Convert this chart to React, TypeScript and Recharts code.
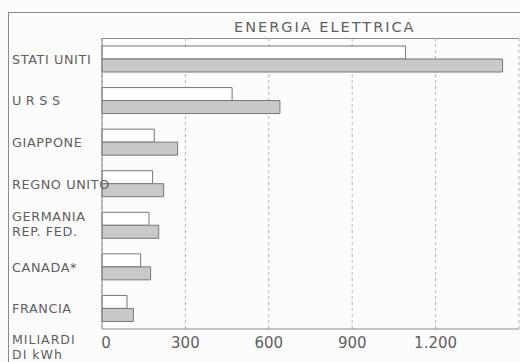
import { BarChart, Bar, XAxis, YAxis, CartesianGrid } from 'recharts'

const paesi = ['STATI UNITI', 'URSS', 'GIAPPONE', 'REGNO UNITO', 'GERMANIA\nREP. FED.', 'CANADA*', 'FRANCIA']
const primoAnno = [1092, 468, 188, 182, 169, 139, 90]
const secondoAnno = [1441, 640, 272, 222, 204, 175, 113]
const tickValori = [0, 300, 600, 900, 1200]

const data = paesi.map((p, i) => ({ paese: p, a: primoAnno[i], b: secondoAnno[i] }))

const FONT = '"DejaVu Sans", sans-serif'
const INK = '#5f5f5f'
const LINE = '#8a8a8a'

const formatTick = (v: number) => v.toLocaleString('it-IT').replace(/\s/g, '.')

const PaeseTick = (props: any) => {
  const { y, payload } = props
  const righe = String(payload.value).split('\n')
  const spacing = payload.value === 'URSS' ? 4.5 : 0.6
  return (
    <text x={12} y={y} fill={INK} fontSize={12.8} fontFamily={FONT} letterSpacing={spacing} textAnchor="start">
      {righe.map((r, i) => (
        <tspan key={i} x={12} dy={i === 0 ? (righe.length > 1 ? -4 : 5) : 15}>{r}</tspan>
      ))}
    </text>
  )
}

const ValoreTick = (props: any) => {
  const { x, payload } = props
  const shift = payload.value === 0 ? 4 : 0
  return (
    <text x={x + shift} y={348} fill={INK} fontSize={15} fontFamily={FONT} textAnchor="middle">
      {formatTick(payload.value)}
    </text>
  )
}

export default function App() {
  return (
    <div style={{ position: 'absolute', left: 0, top: 0, width: 520, height: 362, background: '#fcfcfc', overflow: 'hidden' }}>
      {/* cornice esterna */}
      <div style={{ position: 'absolute', left: 8, top: 12, width: 511, height: 360, borderTop: `1px solid ${LINE}`, borderLeft: `1px solid ${LINE}`, borderRight: `1px solid ${LINE}` }} />
      <div style={{ position: 'absolute', left: 102, top: 38, width: 417, height: 0, borderTop: `1px solid ${LINE}` }} />
      <div style={{ position: 'absolute', left: 234, top: 19, color: INK, fontFamily: FONT, fontSize: 14.5, letterSpacing: 2, whiteSpace: 'nowrap' }}>
        ENERGIA ELETTRICA
      </div>
      <div style={{ position: 'absolute', left: 12, top: 332, color: INK, fontFamily: FONT, fontSize: 12.5, letterSpacing: 1, lineHeight: '15px' }}>
        MILIARDI<br />DI kWh
      </div>
      <div style={{ position: 'absolute', left: 0, top: 0 }}>
        <BarChart
          width={520}
          height={362}
          data={data}
          layout="vertical"
          margin={{ top: 38, right: 1, left: 0, bottom: 0 }}
          barSize={13}
          barGap={0}
        >
          <CartesianGrid horizontal={false} stroke="#b5b5b5" strokeDasharray="3 3" />
          <XAxis
            type="number"
            domain={[0, 1500]}
            ticks={tickValori}
            height={33}
            axisLine={{ stroke: LINE }}
            tickLine={false}
            tick={<ValoreTick />}
          />
          <YAxis
            type="category"
            dataKey="paese"
            width={102}
            axisLine={{ stroke: LINE }}
            tickLine={false}
            tick={<PaeseTick />}
            interval={0}
          />
          <Bar dataKey="a" fill="#ffffff" stroke="#777777" strokeWidth={1} isAnimationActive={false} />
          <Bar dataKey="b" fill="#c9c9c9" stroke="#777777" strokeWidth={1} isAnimationActive={false} />
        </BarChart>
      </div>
    </div>
  )
}
